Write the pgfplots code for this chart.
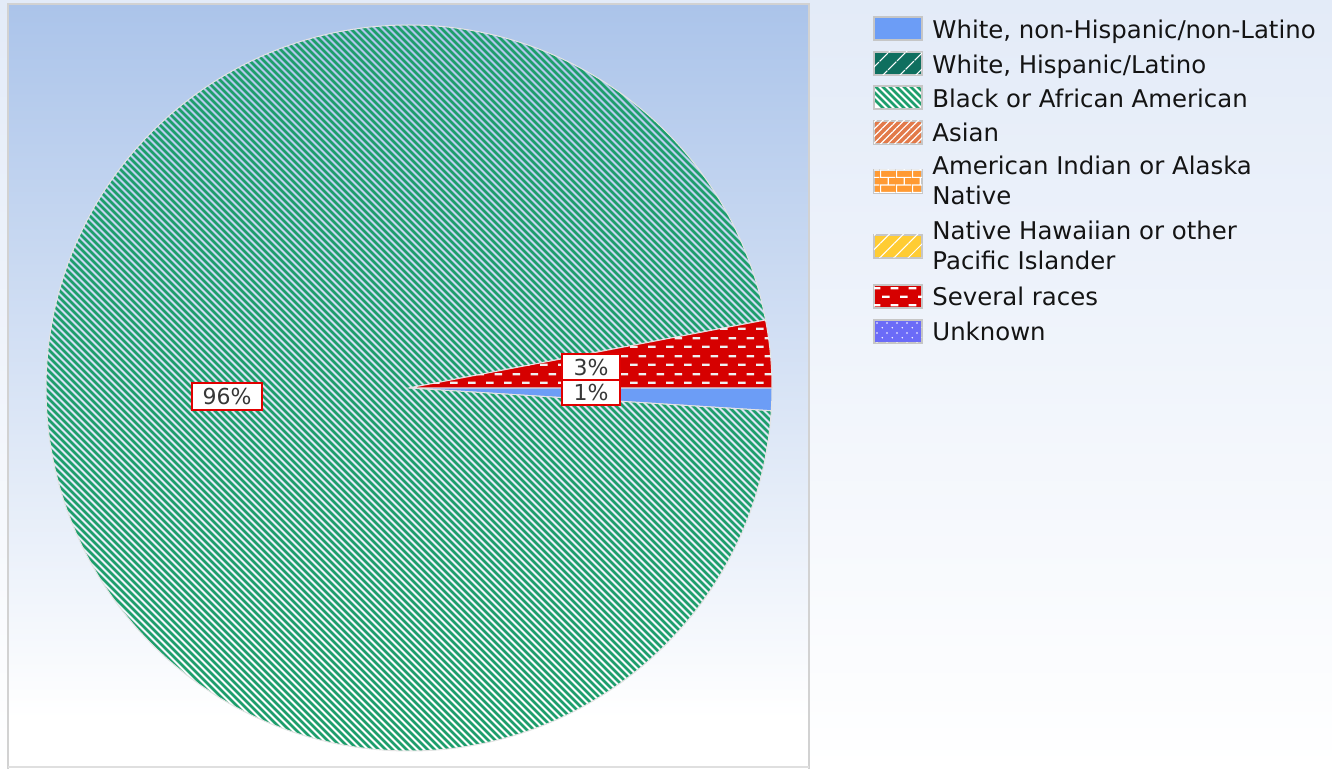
\documentclass[border=0pt]{standalone}
\usepackage{pgfplots}
\pgfplotsset{compat=1.18}
\usepackage{pgfplotstable}
\usepackage{fontspec}
\setmainfont{DejaVu Sans}
\usetikzlibrary{patterns,patterns.meta}

\definecolor{pblue}{HTML}{6C9DF6}
\definecolor{pteal}{HTML}{0F6F5F}
\definecolor{pgreen}{HTML}{1E9E6C}
\definecolor{porange}{HTML}{E27A4A}
\definecolor{pamber}{HTML}{FF9A33}
\definecolor{pyellow}{HTML}{FFCC33}
\definecolor{pred}{HTML}{D60000}
\definecolor{pviolet}{HTML}{6B6BF7}
\definecolor{boxtop}{HTML}{ABC4EA}
\definecolor{pagetop}{HTML}{E3EBF8}
\definecolor{txt}{HTML}{141414}
\definecolor{lblred}{HTML}{E00000}

\pgfdeclarepatternformonly{hdash}{\pgfqpoint{0pt}{0pt}}{\pgfqpoint{9pt}{8.7pt}}{\pgfqpoint{9pt}{8.7pt}}{%
  \pgfsetlinewidth{1.1pt}%
  \pgfpathmoveto{\pgfqpoint{0pt}{2.2pt}}\pgfpathlineto{\pgfqpoint{4pt}{2.2pt}}%
  \pgfpathmoveto{\pgfqpoint{4.5pt}{6.55pt}}\pgfpathlineto{\pgfqpoint{8.5pt}{6.55pt}}%
  \pgfusepath{stroke}}
\pgfdeclarepatternformonly{mybricks}{\pgfqpoint{0pt}{0pt}}{\pgfqpoint{8pt}{7.4pt}}{\pgfqpoint{8pt}{7.4pt}}{%
  \pgfsetlinewidth{0.6pt}%
  \pgfpathmoveto{\pgfqpoint{0pt}{0.3pt}}\pgfpathlineto{\pgfqpoint{8pt}{0.3pt}}%
  \pgfpathmoveto{\pgfqpoint{0pt}{4pt}}\pgfpathlineto{\pgfqpoint{8pt}{4pt}}%
  \pgfpathmoveto{\pgfqpoint{0.3pt}{0pt}}\pgfpathlineto{\pgfqpoint{0.3pt}{3.7pt}}%
  \pgfpathmoveto{\pgfqpoint{4.3pt}{3.7pt}}\pgfpathlineto{\pgfqpoint{4.3pt}{7.4pt}}%
  \pgfusepath{stroke}}
\pgfdeclarepatternformonly{mydots}{\pgfqpoint{0pt}{0pt}}{\pgfqpoint{5pt}{5pt}}{\pgfqpoint{5pt}{5pt}}{%
  \pgfpathcircle{\pgfqpoint{1.25pt}{1.25pt}}{0.45pt}%
  \pgfpathcircle{\pgfqpoint{3.75pt}{3.75pt}}{0.45pt}%
  \pgfusepath{fill}}

% shares in percent, legend order, drawn clockwise from 3 o'clock
\pgfplotstableread{
id share
1 1
2 0
3 96
4 0
5 0
6 0
7 3
8 0
}\piedata

\pgfplotstablegetelem{0}{share}\of\piedata \let\sA\pgfplotsretval
\pgfplotstablegetelem{2}{share}\of\piedata \let\sC\pgfplotsretval
\pgfplotstablegetelem{6}{share}\of\piedata \let\sG\pgfplotsretval
\pgfmathsetmacro\aA{-3.6*\sA}
\pgfmathsetmacro\aC{\aA-3.6*\sC}
\pgfmathsetmacro\aG{\aC-3.6*\sG}
\def\R{181.5pt}

\tikzset{
  edge/.style={draw=white!78!gray, line width=0.5pt},
  sw/.style={draw=gray!45, line width=0.7pt},
  lbl/.style={draw=lblred, line width=1pt, fill=white, inner sep=0pt, text=txt!85, font=\fontsize{11}{12}\selectfont},
  leg/.style={anchor=base west, inner sep=0pt, align=left, text=txt, font=\fontsize{12.2}{15}\selectfont},
}

\begin{document}
\begin{tikzpicture}
\begin{axis}[
  width=666pt, height=384.5pt, scale only axis,
  xmin=0, xmax=1332, ymin=0, ymax=769,
  hide axis, clip=false,
]
% backgrounds
\fill[top color=pagetop, bottom color=white] (axis cs:0,0) rectangle (axis cs:1332,769);
\fill[white] (axis cs:8,2) rectangle (axis cs:809,60);
\fill[top color=boxtop, bottom color=white] (axis cs:8,50) rectangle (axis cs:809,765);
\draw[gray!35, line width=1pt] (axis cs:8,0) -- (axis cs:8,765) -- (axis cs:809,765) -- (axis cs:809,0);
\draw[gray!25, line width=0.6pt] (axis cs:8,2) -- (axis cs:809,2);

\coordinate (C) at (axis cs:409,381);
\coordinate (L96) at (axis cs:227,372.5);
\coordinate (L3) at (axis cs:591,402);
\coordinate (L1) at (axis cs:591,376.5);

% legend swatches
\path[sw, fill=pblue] (axis cs:874,729) rectangle (axis cs:922,752);
\path[sw, fill=pteal, postaction={pattern={Lines[angle=45,distance=6.5pt,line width=0.7pt]}, pattern color=white}] (axis cs:874,694) rectangle (axis cs:922,717);
\coordinate (G1) at (axis cs:874,660);
\coordinate (G2) at (axis cs:922,683);
\path[sw, fill=porange, postaction={pattern={Lines[angle=45,distance=2.5pt,line width=0.6pt]}, pattern color=white}] (axis cs:874,625) rectangle (axis cs:922,648);
\path[sw, fill=pamber, postaction={pattern=mybricks, pattern color=white}] (axis cs:874,576) rectangle (axis cs:922,599);
\path[sw, fill=pyellow, postaction={pattern={Lines[angle=45,distance=5pt,line width=0.5pt]}, pattern color=white}] (axis cs:874,511) rectangle (axis cs:922,534);
\path[sw, fill=pred, postaction={pattern=hdash, pattern color=white}] (axis cs:874,461) rectangle (axis cs:922,484);
\path[sw, fill=pviolet, postaction={pattern=mydots, pattern color=white}] (axis cs:874,426) rectangle (axis cs:922,449);

% legend texts
\node[leg] at (axis cs:932,730) {White, non-Hispanic/non-Latino};
\node[leg] at (axis cs:932,695) {White, Hispanic/Latino};
\node[leg] at (axis cs:932,661) {Black or African American};
\node[leg] at (axis cs:932,627) {Asian};
\node[leg] at (axis cs:932,564) {American Indian or Alaska\\Native};
\node[leg] at (axis cs:932,499) {Native Hawaiian or other\\Pacific Islander};
\node[leg] at (axis cs:932,463) {Several races};
\node[leg] at (axis cs:932,428) {Unknown};
\end{axis}

% green legend swatch (striped)
\begin{scope}
  \clip (G1) rectangle (G2);
  \fill[white] (G1) rectangle (G2);
  \begin{scope}[shift={(G1)}]
    \foreach \k in {-2,...,10} \draw[pgreen, line width=1.35pt] (\k*3.5pt-2pt,14pt) -- ++(16pt,-16pt);
  \end{scope}
\end{scope}
\draw[sw] (G1) rectangle (G2);

% pie slices (angles from the shares above)
\path[fill=pblue, edge] (C) -- ++(0:\R) arc[start angle=0, end angle=\aA, radius=\R] -- cycle;
\begin{scope}
  \clip (C) -- ++(\aA:\R) arc[start angle=\aA, end angle=\aC, radius=\R] -- cycle;
  \begin{scope}[shift={(C)}]
    \foreach \k in {-78,...,78} \draw[pgreen, line width=1.35pt] (\k*3.5pt-192pt,192pt) -- ++(384pt,-384pt);
  \end{scope}
\end{scope}
\path[edge] (C) -- ++(\aA:\R) arc[start angle=\aA, end angle=\aC, radius=\R] -- cycle;
\path[fill=pred, postaction={pattern=hdash, pattern color=white!88!gray}, edge] (C) -- ++(\aC:\R) arc[start angle=\aC, end angle=\aG, radius=\R] -- cycle;

% value labels
\node[lbl, minimum width=35pt, minimum height=13.5pt] at (L96) {96\%};
\node[lbl, minimum width=29pt, minimum height=13pt] at (L3) {3\%};
\node[lbl, minimum width=29pt, minimum height=12.5pt] at (L1) {1\%};
\end{tikzpicture}
\end{document}
